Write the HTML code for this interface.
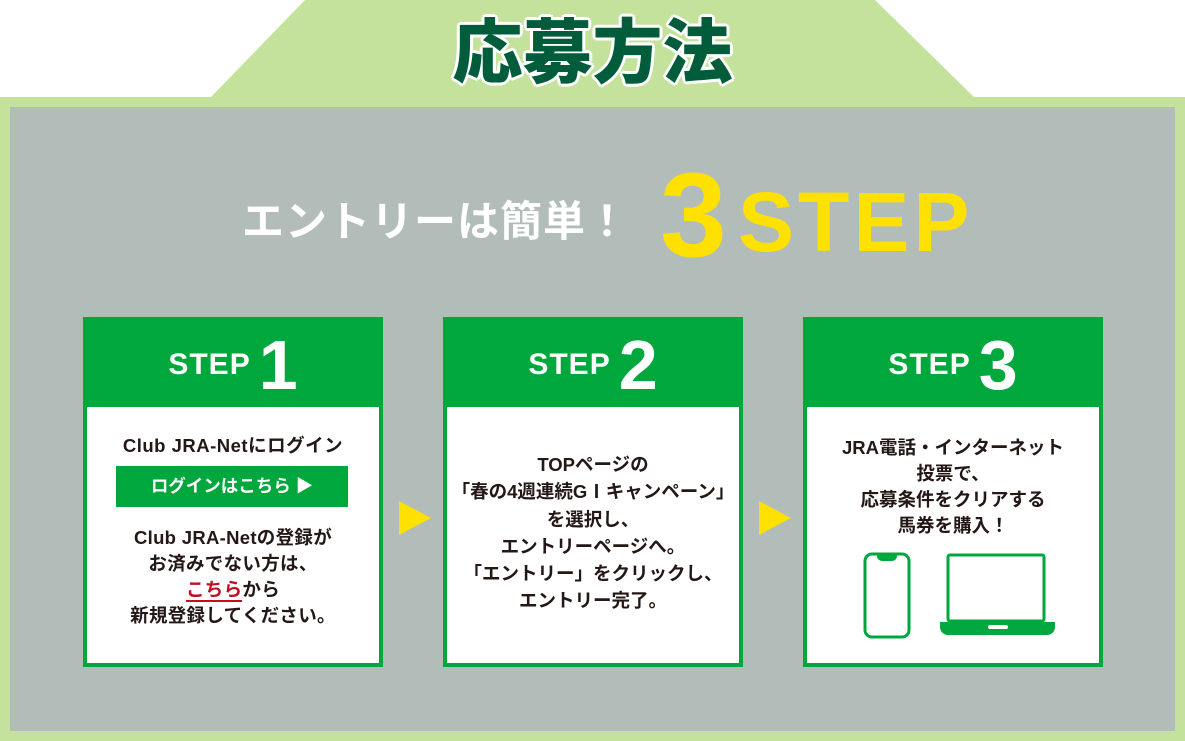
<!DOCTYPE html>
<html><head><meta charset="utf-8"><style>
body{margin:0;width:1185px;height:741px;position:relative;overflow:hidden;background:#fff;font-family:"Liberation Sans","Noto Sans CJK JP",sans-serif;}
.a{position:absolute}
.card{position:absolute;top:317px;width:300px;height:350px;background:#00a73c;box-sizing:border-box}
.card .hd{position:absolute;left:0;top:0;width:300px;height:90px;color:#fff;text-align:center;font-weight:bold}
.card .hd .s{font-size:30px;letter-spacing:1px;vertical-align:middle}
.card .hd .n{font-size:70px;vertical-align:middle;margin-left:8px}
.card .bd{position:absolute;left:4px;top:90px;width:292px;height:256px;background:#fff;text-align:center;font-weight:bold;color:#231815;font-size:18.5px}
.tri{position:absolute;width:0;height:0;border-top:17px solid transparent;border-bottom:17px solid transparent;border-left:32px solid #ffe100}
</style></head><body>
<svg class="a" style="left:0;top:0" width="1185" height="741">
<polygon points="305,0 875,0 975,98 210,98" fill="#c5e29d"/>
<rect x="0" y="97" width="1185" height="644" fill="#c5e29d"/>
<rect x="10" y="107" width="1165" height="624" fill="#b2bcb8"/>
</svg>
<div class="a" style="left:420px;top:8px;width:345px;text-align:center;font-size:70px;font-weight:900;color:#005c3a;text-shadow:3px 0 #fff,-3px 0 #fff,0 3px #fff,0 -3px #fff,2px 2px #fff,-2px -2px #fff,2px -2px #fff,-2px 2px #fff;line-height:90px">応募方法</div>
<div class="a" style="left:242px;top:194px;font-size:42px;font-weight:bold;color:#fff;line-height:56px;letter-spacing:1px">エントリーは簡単！</div>
<div class="a" style="left:660px;top:150px;font-size:120px;font-weight:bold;color:#ffe100;line-height:130px">3</div>
<div class="a" style="left:738px;top:172px;font-size:84px;font-weight:bold;color:#ffe100;line-height:100px;letter-spacing:4px">STEP</div>

<div class="card" style="left:83px"><div class="hd" style="line-height:96px"><span class="s">STEP</span><span class="n">1</span></div>
<div class="bd"><div style="position:absolute;top:26px;width:100%;line-height:26px;letter-spacing:0.5px">Club JRA-Netにログイン</div>
<div style="position:absolute;left:29px;top:59px;width:232px;height:41px;background:#00a73c;color:#fff;line-height:41px;font-size:17.5px">ログインはこちら ▶</div>
<div style="position:absolute;top:118px;width:100%;line-height:26px;letter-spacing:0.3px">Club JRA-Netの登録が<br>お済みでない方は、<br><span style="color:#c30d23;border-bottom:2px solid #c30d23">こちら</span>から<br>新規登録してください。</div></div></div>

<div class="card" style="left:443px"><div class="hd" style="line-height:96px"><span class="s">STEP</span><span class="n">2</span></div>
<div class="bd"><div style="position:absolute;top:44px;width:100%;line-height:27.3px">TOPページの<br>「春の4週連続GⅠキャンペーン」<br>を選択し、<br>エントリーページへ。<br>「エントリー」をクリックし、<br>エントリー完了。</div></div></div>

<div class="card" style="left:803px"><div class="hd" style="line-height:96px"><span class="s">STEP</span><span class="n">3</span></div>
<div class="bd"><div style="position:absolute;top:28px;width:100%;line-height:26px">JRA電話・インターネット<br>投票で、<br>応募条件をクリアする<br>馬券を購入！</div>
<svg style="position:absolute;left:0;top:0" width="292" height="256">
<rect x="58" y="147" width="44" height="83" rx="7" fill="none" stroke="#00a73c" stroke-width="3"/>
<path d="M70 147 h20 v2 a5 5 0 0 1 -5 5 h-10 a5 5 0 0 1 -5 -5z" fill="#00a73c"/>
<rect x="141" y="148" width="96" height="66" rx="2" fill="none" stroke="#00a73c" stroke-width="3"/>
<path d="M133 215 h115 v5 a8 8 0 0 1 -8 8 h-99 a8 8 0 0 1 -8 -8z" fill="#00a73c"/>
<rect x="181" y="218" width="20" height="4" rx="2" fill="#fff"/>
</svg></div></div>

<div class="tri" style="left:399px;top:501px"></div>
<div class="tri" style="left:759px;top:501px"></div>
</body></html>
